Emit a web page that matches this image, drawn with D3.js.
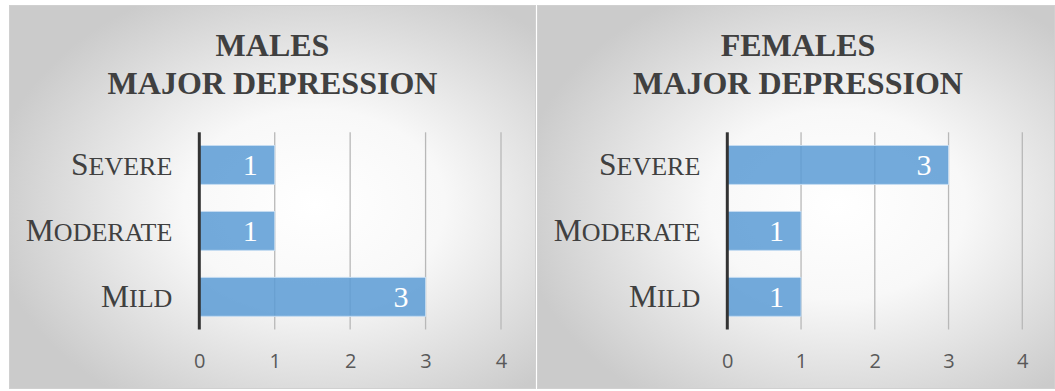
<!DOCTYPE html>
<html><head><meta charset="utf-8">
<script src="https://cdn.jsdelivr.net/npm/d3@7"></script>
<style>body{margin:0;background:#fff}svg{display:block}</style>
</head><body>
<svg id="c" width="1055" height="391"></svg>
<script>
const categories = ["Severe", "Moderate", "Mild"];
const malesValues = [1, 1, 3];
const femalesValues = [3, 1, 1];
const titleLine1 = ["MALES", "FEMALES"];
const titleLine2 = "MAJOR DEPRESSION";
const tickValues = [0, 1, 2, 3, 4];

const svg = d3.select("#c");
const defs = svg.append("defs");
const grad = defs.append("radialGradient").attr("id","bg").attr("cx","58%").attr("cy","52%").attr("r","62%");
grad.append("stop").attr("offset","0%").attr("stop-color","#ffffff");
grad.append("stop").attr("offset","40%").attr("stop-color","#f8f8f8");
grad.append("stop").attr("offset","100%").attr("stop-color","#cbcbcb");

const panels = [
  {x0:9, x1:536, values: malesValues, title: titleLine1[0], ax0:199.3, ax4:501, tcx:272.5},
  {x0:537, x1:1055, values: femalesValues, title: titleLine1[1], ax0:727.3, ax4:1022.3, tcx:798}
];

panels.forEach(p => {
  const g = svg.append("g");
  g.append("rect").attr("x", p.x0+0.5).attr("y", 5.5).attr("width", p.x1-p.x0-1).attr("height", 383)
    .attr("fill","url(#bg)").attr("stroke","#d0d0d0").attr("stroke-width",1);

  const t = g.append("text").attr("text-anchor","middle").attr("font-family","'Liberation Serif', 'Times New Roman', serif")
    .attr("font-weight","bold").attr("font-size",32).attr("fill","#404040");
  t.append("tspan").attr("x",p.tcx).attr("y",56).text(p.title);
  t.append("tspan").attr("x",p.tcx).attr("y",94).text(titleLine2);

  const x = d3.scaleLinear().domain([0,4]).range([p.ax0, p.ax4]);
  const y = d3.scaleBand().domain(categories).range([132.3, 329.5]).paddingInner(0.41).paddingOuter(0.2);

  g.append("g").selectAll("line").data(tickValues.slice(1)).join("line")
    .attr("x1", d=>x(d)).attr("x2", d=>x(d)).attr("y1",132.3).attr("y2",329.5)
    .attr("stroke","#b8b8b8").attr("stroke-width",1.3);

  g.append("g").selectAll("rect").data(p.values).join("rect")
    .attr("x", x(0)).attr("y",(d,i)=>y(categories[i]))
    .attr("width", d=>x(d)-x(0)).attr("height", y.bandwidth())
    .attr("fill","#5b9bd5").attr("fill-opacity",0.85)
    .attr("stroke","#c5dcf1").attr("stroke-width",1);

  g.append("g").selectAll("text").data(p.values).join("text")
    .attr("x", d=>x(d)-17).attr("y",(d,i)=>y(categories[i])+y.bandwidth()/2+10.5)
    .attr("text-anchor","end").attr("font-family","'Liberation Serif', serif").attr("font-size",30)
    .attr("fill","#ffffff").text(d=>d);

  const xa = g.append("g").attr("transform","translate(0,368)")
    .call(d3.axisBottom(x).tickValues(tickValues).tickSize(0).tickPadding(0).tickFormat(d3.format("d")));
  xa.select(".domain").remove();
  xa.attr("font-size", null).attr("font-family", null);
  xa.selectAll("text").style("font-family","'Open Sans', sans-serif").style("font-size","20px")
    .attr("fill","#595959").attr("dy",0).attr("y",0);

  g.append("line").attr("x1",x(0)).attr("x2",x(0)).attr("y1",132.3).attr("y2",329.5)
    .attr("stroke","#333333").attr("stroke-width",3);

  const cl = g.append("g").selectAll("text").data(categories).join("text")
    .attr("x", x(0)-27).attr("y", d=>y(d)+y.bandwidth()/2+10)
    .attr("text-anchor","end").attr("font-family","'Liberation Serif', serif").attr("font-size",31.5)
    .attr("fill","#404040");
  cl.append("tspan").text(d=>d[0].toUpperCase());
  cl.append("tspan").attr("font-size",26).text(d=>d.slice(1).toUpperCase());
});
</script>
</body></html>
